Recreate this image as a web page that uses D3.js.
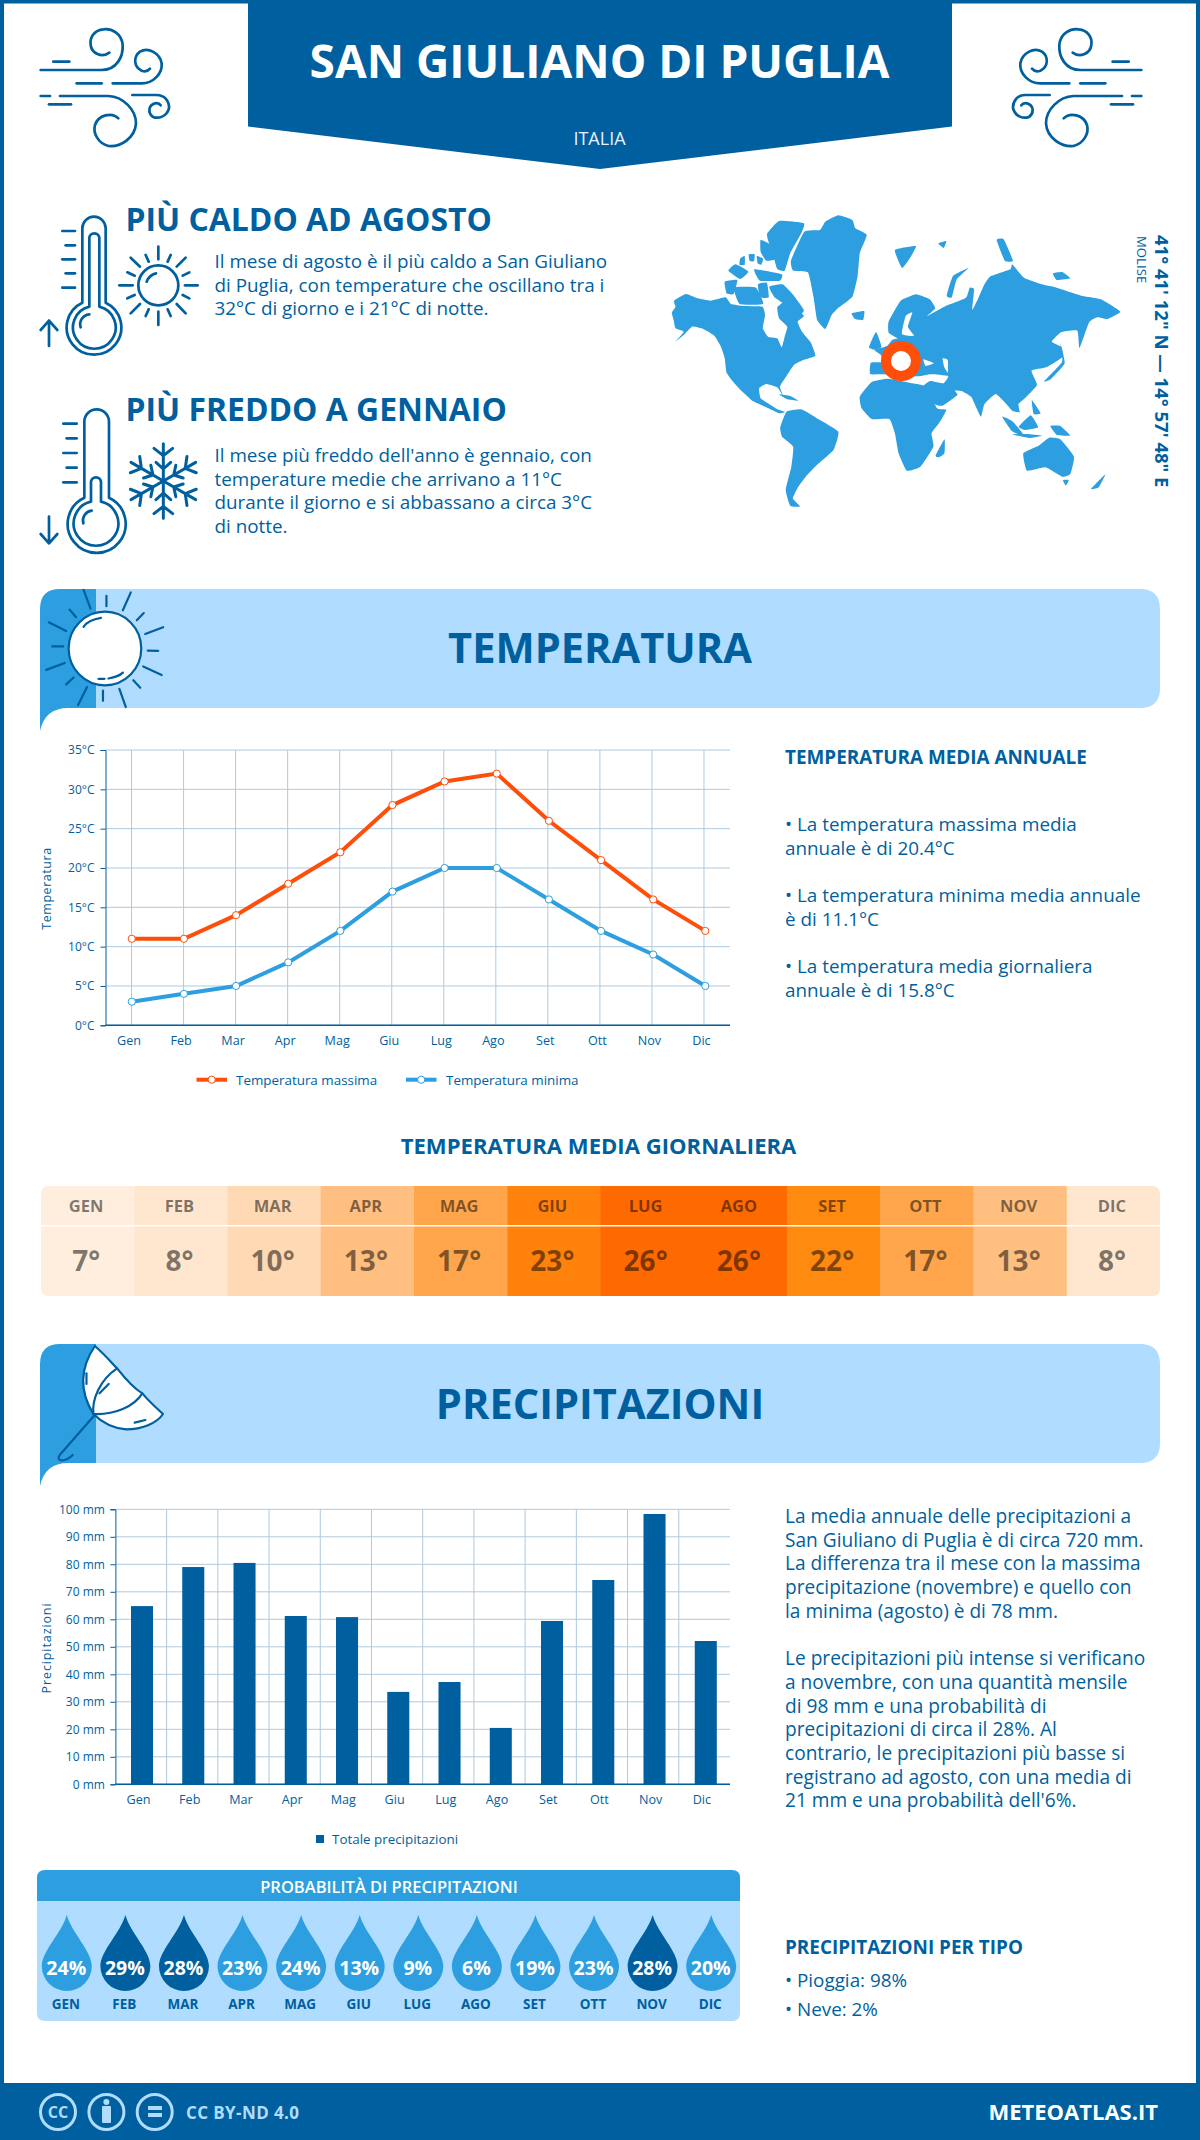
<!DOCTYPE html>
<html>
<head>
<meta charset="utf-8">
<script src="https://cdnjs.cloudflare.com/ajax/libs/d3/7.8.5/d3.min.js"></script>
<style>
  html, body { margin: 0; padding: 0; background: #fff; }
  svg { display: block; }
  text { font-family: "Open Sans", sans-serif; }
</style>
</head>
<body>
<svg id="page" width="1200" height="2140"></svg>
<script>
'use strict';

var months = ['Gen', 'Feb', 'Mar', 'Apr', 'Mag', 'Giu', 'Lug', 'Ago', 'Set', 'Ott', 'Nov', 'Dic'];
var tempMax = [11, 11, 14, 18, 22, 28, 31, 32, 26, 21, 16, 12];
var tempMin = [3, 4, 5, 8, 12, 17, 20, 20, 16, 12, 9, 5];
var tempMean = [7, 8, 10, 13, 17, 23, 26, 26, 22, 17, 13, 8];
var rain = [64.8, 79, 80.5, 61.2, 60.8, 33.6, 37.2, 20.5, 59.4, 74.3, 98.3, 52.1];
var rainProb = [24, 29, 28, 23, 24, 13, 9, 6, 19, 23, 28, 20];
var tempTicks = [0, 5, 10, 15, 20, 25, 30, 35];
var rainTicks = [0, 10, 20, 30, 40, 50, 60, 70, 80, 90, 100];

var hotText = ['Il mese di agosto è il più caldo a San Giuliano', 'di Puglia, con temperature che oscillano tra i', '32°C di giorno e i 21°C di notte.'];
var coldText = ["Il mese più freddo dell'anno è gennaio, con", 'temperature medie che arrivano a 11°C', 'durante il giorno e si abbassano a circa 3°C', 'di notte.'];
var annualText = ['• La temperatura massima media', 'annuale è di 20.4°C', '', '• La temperatura minima media annuale', 'è di 11.1°C', '', '• La temperatura media giornaliera', 'annuale è di 15.8°C'];
var rainText = ['La media annuale delle precipitazioni a', 'San Giuliano di Puglia è di circa 720 mm.', 'La differenza tra il mese con la massima', 'precipitazione (novembre) e quello con', 'la minima (agosto) è di 78 mm.', '',
  'Le precipitazioni più intense si verificano', 'a novembre, con una quantità mensile', 'di 98 mm e una probabilità di', 'precipitazioni di circa il 28%. Al', 'contrario, le precipitazioni più basse si', 'registrano ad agosto, con una media di', "21 mm e una probabilità dell'6%."];
var typeText = ['• Pioggia: 98%', '• Neve: 2%'];

var BLUE = '#005f9e', MID = '#2d9fe0', LIGHT = '#b0dcff', ORANGE = '#ff4e0a', GRID = '#aecadf';

var svg = d3.select('#page');

function label(parent, x, y, str, size, weight, color, anchor) {
    return parent.append('text').attr('x', x).attr('y', y).text(str)
        .attr('font-size', size).attr('font-weight', weight || 400)
        .attr('fill', color || BLUE).attr('text-anchor', anchor || 'start');
}

function textBlock(lines, x, y, lh, size) {
    lines.forEach(function (l, i) {
        if (l) label(svg, x, y + i * lh, l, size);
    });
}

// icons are traced in the coordinates of a crop, then moved into place
function iconGroup(tx, ty, sx, sy, width) {
    return svg.append('g').attr('transform', 'translate(' + tx + ',' + ty + ') scale(' + sx + ',' + sy + ')')
        .attr('fill', 'none').attr('stroke', BLUE).attr('stroke-width', width)
        .attr('stroke-linecap', 'round').attr('stroke-linejoin', 'round');
}

function iconPath(g, d) {
    return g.append('path').attr('d', d).attr('vector-effect', 'non-scaling-stroke');
}

// page frame and header
svg.append('rect').attr('x', 2).attr('y', 1.5).attr('width', 1196).attr('height', 2140)
    .attr('fill', '#fff').attr('stroke', BLUE).attr('stroke-width', 4);
svg.append('path').attr('d', 'M248,0 H952 V126.5 L600,169 L248,126.5 Z').attr('fill', BLUE);
label(svg, 599.5, 78, 'SAN GIULIANO DI PUGLIA', 46, 700, '#fff', 'middle');
label(svg, 599.5, 144.5, 'ITALIA', 18, 400, '#e6f3ff', 'middle');

var windPaths = [
    'M62,180 H245 C290,180 310,140 308,105 C305,70 275,55 250,58 C225,60 208,80 212,105 C215,130 245,145 268,128',
    'M100,155 H148', 'M170,220 H245',
    'M278,220 H365 C400,220 428,190 425,160 C420,130 385,110 360,125 C340,140 340,170 365,182 C375,186 385,182 390,176',
    'M62,258 H90',
    'M120,258 H265 C310,260 348,300 348,340 C345,385 300,412 265,408 C235,400 218,370 225,345 C235,315 275,305 295,325',
    'M87,283 H153',
    'M337,255 H410 C435,255 448,275 447,295 C440,320 415,328 398,320 C383,308 385,285 405,280 C415,278 420,283 422,286'
];
[iconGroup(20, 10, 1 / 3, 1 / 3, 2.7), iconGroup(1162, 10, -1 / 3, 1 / 3, 2.7)].forEach(function (g) {
    windPaths.forEach(function (d) { iconPath(g, d); });
});

// hot block
label(svg, 125.5, 231, 'PIÙ CALDO AD AGOSTO', 31.9, 700);
textBlock(hotText, 214.5, 268, 23.6, 18.85);
var hot = iconGroup(30, 200, 1 / 3, 1 / 3, 2.7);
['M157,308 V85 A35,35 0 0 1 227,85 V308 A82,82 0 1 1 157,308',
    'M178,320 V115 A15,15 0 0 1 208,115 V320 A64,64 0 1 1 178,320',
    'M152,382 A30,30 0 0 1 178,343',
    'M97,93 H135', 'M107,136 H135', 'M97,178 H135', 'M107,220 H135', 'M97,263 H135',
    'M57,438 V362 M32,390 L57,362 L82,390',
    'M350,245 A40,40 0 0 1 378,220',
    'M385,140 V178', 'M385,335 V375', 'M268,256 H308', 'M465,256 H503',
    'M302,173 L330,200', 'M467,173 L440,200', 'M302,340 L330,312', 'M467,340 L440,312',
    'M347,165 L356,185', 'M422,165 L413,185', 'M292,217 L314,227', 'M478,217 L458,227',
    'M292,295 L314,285', 'M478,295 L458,285', 'M347,348 L356,328', 'M422,348 L413,328'
].forEach(function (d) { iconPath(hot, d); });
hot.append('circle').attr('cx', 385).attr('cy', 256).attr('r', 60).attr('vector-effect', 'non-scaling-stroke');

// cold block
label(svg, 125.5, 421, 'PIÙ FREDDO A GENNAIO', 31.9, 700);
textBlock(coldText, 214.5, 462, 23.7, 18.85);
var cold = iconGroup(30, 395, 1 / 3, 1 / 3, 2.7);
['M163,308 V80 A37,37 0 0 1 237,80 V308 A87,87 0 1 1 163,308',
    'M183,320 V262 A15,15 0 0 1 213,262 V320 A67,67 0 1 1 183,320',
    'M160,385 A30,30 0 0 1 185,347',
    'M100,86 H140', 'M110,130 H140', 'M100,174 H140', 'M110,218 H140', 'M100,262 H140',
    'M57,365 V445 M32,417 L57,445 L82,417'
].forEach(function (d) { iconPath(cold, d); });
d3.range(6).forEach(function (i) {
    var arm = cold.append('g').attr('transform', 'translate(400,258) rotate(' + i * 60 + ')').attr('stroke-width', 3);
    iconPath(arm, 'M0,0 V-112 M-28,-98 L0,-76 L28,-98 M-22,-56 L0,-36 L22,-56');
});

// world map, traced by hand
var landPolys = [
    // north america
    [[140, 368], [150, 350], [146, 332], [178, 312], [210, 325], [245, 332], [285, 322], [300, 342], [335, 348], [385, 350], [392, 375], [386, 415], [400, 440], [425, 445], [437, 472], [445, 440], [452, 410], [430, 385], [425, 352], [445, 335], [475, 355], [497, 378], [480, 395], [492, 425], [516, 458], [528, 497], [495, 510], [470, 525], [450, 558], [432, 590], [441, 618], [425, 592], [395, 582], [376, 595], [380, 625], [400, 640], [425, 658], [446, 666], [430, 670], [400, 654], [360, 634], [328, 602], [308, 578], [288, 548], [283, 505], [273, 470], [255, 437], [225, 417], [195, 410], [172, 435], [150, 455], [172, 425], [150, 415], [145, 390]],
    // greenland
    [[462, 212], [498, 125], [540, 120], [555, 95], [590, 76], [628, 90], [636, 115], [667, 135], [648, 190], [642, 260], [628, 320], [592, 352], [572, 375], [555, 417], [533, 390], [523, 320], [508, 247], [468, 242]],
    // arctic islands
    [[398, 130], [430, 93], [497, 100], [490, 130], [460, 190], [445, 242], [425, 237], [415, 200], [400, 150]],
    [[380, 150], [405, 163], [420, 207], [395, 212], [380, 185]],
    [[403, 290], [440, 283], [472, 320], [497, 360], [485, 377], [450, 347], [418, 322]],
    [[283, 275], [317, 270], [307, 312], [288, 310]],
    [[308, 293], [367, 293], [387, 342], [323, 342]],
    [[293, 242], [312, 223], [347, 245], [325, 267]],
    [[363, 238], [437, 253], [432, 272], [378, 272]],
    [[325, 205], [337, 198], [337, 224], [323, 224]],
    [[373, 283], [397, 278], [402, 322], [378, 322]],
    [[348, 193], [364, 193], [362, 214], [350, 212]],
    [[370, 198], [387, 206], [382, 224], [372, 220]],
    // south america
    [[433, 712], [450, 665], [490, 658], [530, 683], [590, 725], [577, 780], [532, 825], [502, 860], [482, 890], [467, 925], [487, 950], [460, 947], [448, 900], [463, 830], [468, 770], [438, 740]],
    // africa
    [[648, 620], [680, 576], [725, 566], [790, 580], [827, 590], [857, 655], [882, 660], [862, 700], [842, 730], [847, 770], [812, 830], [775, 842], [753, 790], [743, 730], [728, 687], [680, 687], [653, 655]],
    // eurasia
    [[676, 552], [678, 518], [712, 516], [705, 495], [688, 480], [722, 468], [735, 450], [750, 445], [726, 428], [726, 395], [758, 333], [800, 313], [837, 328], [852, 355], [830, 378], [860, 360], [880, 348], [935, 323], [945, 293], [957, 298], [952, 360], [967, 328], [985, 283], [1000, 260], [1055, 238], [1060, 223], [1092, 263], [1140, 283], [1180, 293], [1250, 318], [1300, 328], [1352, 365], [1317, 387], [1290, 382], [1268, 397], [1242, 474], [1236, 422], [1192, 427], [1167, 455], [1192, 470], [1197, 500], [1152, 532], [1112, 542], [1127, 585], [1097, 622], [1077, 642], [1080, 667], [1060, 662], [1040, 637], [1015, 612], [985, 642], [975, 680], [950, 622], [925, 604], [905, 602], [912, 615], [872, 647], [850, 642], [820, 590], [838, 573], [874, 580], [887, 558], [840, 553], [815, 558], [770, 560], [710, 553]],
    // europe islands
    [[673, 472], [692, 426], [707, 470], [690, 480]],
    [[626, 370], [660, 363], [657, 390], [635, 387]],
    [[743, 180], [800, 168], [782, 207], [762, 234]],
    [[883, 317], [900, 258], [942, 234], [910, 268], [897, 322]],
    [[1018, 150], [1037, 148], [1062, 212], [1040, 212]],
    [[1170, 250], [1195, 246], [1217, 265], [1180, 270]],
    [[860, 160], [882, 153], [875, 174]],
    // madagascar, japan and the islands
    [[853, 797], [877, 748], [877, 790], [862, 802]],
    [[1146, 574], [1195, 515], [1190, 458], [1202, 520], [1165, 567]],
    [[1033, 680], [1062, 695], [1092, 737], [1060, 724]],
    [[1078, 710], [1110, 676], [1130, 712], [1095, 720]],
    [[1060, 733], [1100, 732], [1140, 737], [1105, 744]],
    [[1163, 708], [1190, 708], [1217, 737], [1180, 734]],
    [[1113, 630], [1137, 670], [1118, 672]],
    [[430, 613], [460, 618], [482, 632], [450, 627]],
    // australia and new zealand
    [[1090, 790], [1130, 768], [1160, 743], [1190, 748], [1227, 800], [1217, 852], [1195, 860], [1150, 832], [1100, 842]],
    [[1197, 870], [1213, 870], [1205, 887]],
    [[1273, 897], [1312, 853], [1294, 892]]
];
var seaPolys = [
    [[772, 378], [790, 368], [778, 410], [795, 438], [762, 432]],
    [[872, 505], [886, 510], [886, 548], [876, 530]],
    [[820, 508], [848, 520], [826, 528]]
];
var poly = d3.line().curve(d3.curveCardinalClosed.tension(0.6));
var map = svg.append('g').attr('transform', 'translate(620,190) scale(0.37,0.3333)');
map.selectAll('path.land').data(landPolys).join('path').attr('class', 'land').attr('d', poly).attr('fill', MID);
map.selectAll('path.sea').data(seaPolys).join('path').attr('class', 'sea').attr('d', poly).attr('fill', '#fff');
svg.append('circle').attr('cx', 901).attr('cy', 361).attr('r', 15).attr('fill', '#fff')
    .attr('stroke', ORANGE).attr('stroke-width', 10);

svg.append('text').attr('transform', 'translate(1155,235) rotate(90)').text('41° 41\' 12" N — 14° 57\' 48" E')
    .attr('font-size', 18.5).attr('font-weight', 700).attr('fill', BLUE);
svg.append('text').attr('transform', 'translate(1137,236) rotate(90)').text('MOLISE')
    .attr('font-size', 13.2).attr('fill', BLUE);

// section banners
function banner(top, bottom, title, baseline, size) {
    svg.append('path').attr('d', 'M96,' + top + ' H1140 Q1160,' + top + ' 1160,' + (top + 20) + ' V' + (bottom - 20) + ' Q1160,' + bottom + ' 1140,' + bottom + ' H96 Z').attr('fill', LIGHT);
    svg.append('path').attr('d', 'M96,' + top + ' H60 Q40,' + top + ' 40,' + (top + 20) + ' V' + (bottom + 23) + ' Q45,' + bottom + ' 68,' + bottom + ' H96 Z').attr('fill', MID);
    label(svg, 600, baseline, title, size, 700, BLUE, 'middle');
}
banner(589, 708, 'TEMPERATURA', 663, 41.6);
banner(1344, 1463, 'PRECIPITAZIONI', 1419, 41.6);

var sun = iconGroup(0, 570, 0.4974, 0.3444, 2.2);
sun.append('ellipse').attr('cx', 211).attr('cy', 228).attr('rx', 73).attr('ry', 107).attr('fill', '#fff')
    .attr('vector-effect', 'non-scaling-stroke');
['M168,58 L182,112', 'M140,115 L153,137', 'M98,152 L133,177', 'M105,222 L127,222', 'M93,290 L130,270',
    'M133,332 L148,312', 'M157,392 L175,340', 'M207,380 L207,350', 'M253,398 L240,345', 'M282,342 L268,320',
    'M325,305 L288,280', 'M318,235 L297,234', 'M292,186 L328,166', 'M275,146 L289,125', 'M247,117 L263,65',
    'M214,105 L214,75', 'M168,165 C175,150 190,142 203,139', 'M198,316 H210', 'M218,315 C230,312 240,308 247,298'
].forEach(function (d) { iconPath(sun, d); });

var umbrella = iconGroup(0, 1110, 0.7653, 1 / 3, 2.2);
iconPath(umbrella, 'M124,708 C140,740 150,770 153,775 C165,810 175,835 186,850 C195,875 205,895 213,912 C205,940 185,958 165,958 C145,955 130,930 122,912 C108,860 100,790 124,708 Z').attr('fill', '#fff');
['M122,912 C150,915 175,890 186,850', 'M122,912 C120,870 130,810 153,775', 'M124,914 L78,1035 C72,1055 85,1058 95,1035',
    'M113,790 V822', 'M130,850 L142,822', 'M176,938 L190,930'
].forEach(function (d) { iconPath(umbrella, d); });

// temperature chart
var tx = d3.scaleBand().domain(months).range([105.5, 730]);
var ty = d3.scaleLinear().domain([0, 35]).range([1025.3, 750]);
var tc = function (m) { return tx(m) + tx.bandwidth() / 2; };
// the points sit a touch right of the grid and spread slightly wider
var tp = d3.scaleBand().domain(months).range([105.7, 731.4]);
var tpc = function (m) { return tp(m) + tp.bandwidth() / 2; };

var tempChart = svg.append('g');
tempChart.selectAll('line.h').data(tempTicks).join('line').attr('class', 'h')
    .attr('x1', 105.5).attr('x2', 730).attr('y1', ty).attr('y2', ty)
    .attr('stroke', GRID).attr('stroke-width', 1);
tempChart.selectAll('line.v').data(months).join('line').attr('class', 'v')
    .attr('x1', tc).attr('x2', tc).attr('y1', 750).attr('y2', 1025.3)
    .attr('stroke', GRID).attr('stroke-width', 1);

function styleAxis(g) {
    g.selectAll('.domain, .tick line').attr('stroke', BLUE);
    g.selectAll('text').attr('fill', BLUE).attr('font-family', '"Open Sans", sans-serif');
}

tempChart.append('g').attr('transform', 'translate(105.5,0)')
    .call(d3.axisLeft(ty).tickValues(tempTicks).tickSize(5).tickPadding(6).tickFormat(function (d) { return d + '°C'; }))
    .call(styleAxis)
    .call(function (g) { g.selectAll('text').attr('font-size', 12); });
tempChart.append('g').attr('transform', 'translate(-2.5,1025.3)')
    .call(d3.axisBottom(tx).tickSize(0).tickPadding(11))
    .call(styleAxis)
    .call(function (g) { g.select('.domain').remove(); g.selectAll('text').attr('font-size', 12.6); });
tempChart.append('line').attr('x1', 105.5).attr('x2', 730).attr('y1', 1025.3).attr('y2', 1025.3)
    .attr('stroke', BLUE).attr('stroke-width', 1.5);

svg.append('text').attr('transform', 'translate(51,888.5) rotate(-90)').attr('text-anchor', 'middle')
    .text('Temperatura').attr('font-size', 12.5).attr('letter-spacing', 0.55).attr('fill', BLUE);

var tempLine = d3.line().x(function (d, i) { return tpc(months[i]); }).y(function (d) { return ty(d); });

[[tempMax, ORANGE], [tempMin, MID]].forEach(function (s) {
    tempChart.append('path').datum(s[0]).attr('d', tempLine).attr('fill', 'none')
        .attr('stroke', s[1]).attr('stroke-width', 4);
    tempChart.selectAll(null).data(s[0]).join('circle')
        .attr('cx', function (d, i) { return tpc(months[i]); })
        .attr('cy', function (d) { return ty(d); })
        .attr('r', 3.6).attr('fill', '#fff').attr('stroke', s[1]).attr('stroke-width', 1);
});

[[196.5, 236, 'Temperatura massima', ORANGE], [406, 446, 'Temperatura minima', MID]].forEach(function (l) {
    svg.append('rect').attr('x', l[0]).attr('y', 1077.7).attr('width', 30.5).attr('height', 4).attr('fill', l[3]);
    svg.append('circle').attr('cx', l[0] + 15.2).attr('cy', 1079.7).attr('r', 3.6).attr('fill', '#fff')
        .attr('stroke', l[3]).attr('stroke-width', 1);
    label(svg, l[1], 1084.5, l[2], 13.4);
});

label(svg, 785, 764, 'TEMPERATURA MEDIA ANNUALE', 18.9, 700);
textBlock(annualText, 785, 831, 23.65, 18.85);

// daily mean temperature table
label(svg, 598.5, 1154, 'TEMPERATURA MEDIA GIORNALIERA', 22.1, 700, BLUE, 'middle');

var heatColor = d3.scaleLinear()
    .domain([7, 10, 13, 17, 22, 26])
    .range(['#ffeedd', '#ffd9b3', '#ffbf80', '#ffa64d', '#ff8a10', '#ff6a00']);
var hx = d3.scaleBand().domain(months).range([41, 1160]);

svg.append('clipPath').attr('id', 'heatClip').append('rect')
    .attr('x', 41).attr('y', 1186).attr('width', 1119).attr('height', 110).attr('rx', 7);
var heat = svg.append('g').attr('clip-path', 'url(#heatClip)');
heat.selectAll('rect').data(tempMean).join('rect')
    .attr('x', function (d, i) { return hx(months[i]); })
    .attr('y', 1186).attr('width', hx.bandwidth() + 0.5).attr('height', 110)
    .attr('fill', function (d) { return heatColor(d); });
heat.append('rect').attr('x', 41).attr('y', 1225).attr('width', 1119).attr('height', 1.5).attr('fill', '#fff');

tempMean.forEach(function (d, i) {
    var cx = hx(months[i]) + hx.bandwidth() / 2 - 1.5;
    label(svg, cx, 1211.7, months[i].toUpperCase(), 16.5, 700, 'rgba(0,0,0,0.5)', 'middle');
    label(svg, cx, 1270.7, d + '°', 28, 700, 'rgba(0,0,0,0.5)', 'middle');
});

// precipitation chart
var rx = d3.scaleBand().domain(months).range([116.4, 731.4]).paddingInner(0.57).paddingOuter(0.285);
var rx0 = d3.scaleBand().domain(months).range([115.4, 730]);
var ry = d3.scaleLinear().domain([0, 100]).range([1784.3, 1509.3]);

var rainChart = svg.append('g');
rainChart.selectAll('line.h').data(rainTicks).join('line').attr('class', 'h')
    .attr('x1', 115.4).attr('x2', 730).attr('y1', ry).attr('y2', ry)
    .attr('stroke', GRID).attr('stroke-width', 1);
rainChart.selectAll('line.v').data(months.slice(1)).join('line').attr('class', 'v')
    .attr('x1', rx0).attr('x2', rx0).attr('y1', 1509.3).attr('y2', 1784.3)
    .attr('stroke', GRID).attr('stroke-width', 1);
rainChart.selectAll('rect').data(rain).join('rect')
    .attr('x', function (d, i) { return rx(months[i]); })
    .attr('width', rx.bandwidth())
    .attr('y', function (d) { return ry(d); })
    .attr('height', function (d) { return ry(0) - ry(d); })
    .attr('fill', BLUE);

rainChart.append('g').attr('transform', 'translate(115.4,0)')
    .call(d3.axisLeft(ry).tickValues(rainTicks).tickSize(5).tickPadding(5.5).tickFormat(function (d) { return d + ' mm'; }))
    .call(styleAxis)
    .call(function (g) { g.selectAll('text').attr('font-size', 12); });
rainChart.append('g').attr('transform', 'translate(-2.5,1784.3)')
    .call(d3.axisBottom(rx0).tickSize(0).tickPadding(11))
    .call(styleAxis)
    .call(function (g) { g.select('.domain').remove(); g.selectAll('text').attr('font-size', 12.6); });
rainChart.append('line').attr('x1', 115.4).attr('x2', 730).attr('y1', 1784.3).attr('y2', 1784.3)
    .attr('stroke', BLUE).attr('stroke-width', 1.5);

svg.append('text').attr('transform', 'translate(51,1648) rotate(-90)').attr('text-anchor', 'middle')
    .text('Precipitazioni').attr('font-size', 12.5).attr('letter-spacing', 0.9).attr('fill', BLUE);

svg.append('rect').attr('x', 316).attr('y', 1835).attr('width', 8).attr('height', 8).attr('fill', BLUE);
label(svg, 332, 1843.5, 'Totale precipitazioni', 13.4);

textBlock(rainText, 785, 1523, 23.7, 19.1);

// rain probability panel
svg.append('path').attr('d', 'M37,1901 V1878 Q37,1870 45,1870 H732 Q740,1870 740,1878 V1901 Z').attr('fill', MID);
svg.append('path').attr('d', 'M37,1901 H740 V2013 Q740,2021 732,2021 H45 Q37,2021 37,2013 Z').attr('fill', LIGHT);
label(svg, 389, 1893, 'PROBABILITÀ DI PRECIPITAZIONI', 16.5, 600, '#fff', 'middle');

var px = d3.scaleBand().domain(months).range([37.5, 740.5]);
function dropPath(cx) {
    var top = 1915, cy = 1966, r = 25;
    return 'M' + cx + ',' + top + ' C' + (cx + 5) + ',' + (top + 18) + ' ' + (cx + r) + ',' + (top + 36) + ' ' + (cx + r) + ',' + cy +
        ' A' + r + ',' + r + ' 0 1 1 ' + (cx - r) + ',' + cy +
        ' C' + (cx - r) + ',' + (top + 36) + ' ' + (cx - 5) + ',' + (top + 18) + ' ' + cx + ',' + top + ' Z';
}
rainProb.forEach(function (d, i) {
    var cx = px(months[i]) + px.bandwidth() / 2;
    svg.append('path').attr('d', dropPath(cx)).attr('fill', d >= 28 ? BLUE : MID);
    label(svg, cx - 0.5, 1975, d + '%', 19.5, 700, '#fff', 'middle');
    label(svg, cx - 1, 2009, months[i].toUpperCase(), 13.5, 700, BLUE, 'middle');
});

label(svg, 785, 1954, 'PRECIPITAZIONI PER TIPO', 18.9, 700);
textBlock(typeText, 785, 1986.7, 29.3, 18.85);

// footer
svg.append('rect').attr('x', 0).attr('y', 2083).attr('width', 1200).attr('height', 57).attr('fill', BLUE);
[58, 106.4, 154.7].forEach(function (cx) {
    svg.append('circle').attr('cx', cx).attr('cy', 2112).attr('r', 17.5).attr('fill', 'none')
        .attr('stroke', LIGHT).attr('stroke-width', 3);
});
label(svg, 58, 2118, 'CC', 16, 700, LIGHT, 'middle');
svg.append('circle').attr('cx', 106.4).attr('cy', 2102).attr('r', 3).attr('fill', LIGHT);
svg.append('rect').attr('x', 102).attr('y', 2106).attr('width', 9).attr('height', 17).attr('rx', 1).attr('fill', LIGHT);
svg.append('rect').attr('x', 148).attr('y', 2106).attr('width', 14).attr('height', 4).attr('fill', LIGHT);
svg.append('rect').attr('x', 148).attr('y', 2113).attr('width', 14).attr('height', 4).attr('fill', LIGHT);
label(svg, 186, 2118.5, 'CC BY-ND 4.0', 17, 700, LIGHT).attr('letter-spacing', 0.4);
label(svg, 1158, 2120, 'METEOATLAS.IT', 22, 700, '#fff', 'end');
</script>
</body>
</html>
